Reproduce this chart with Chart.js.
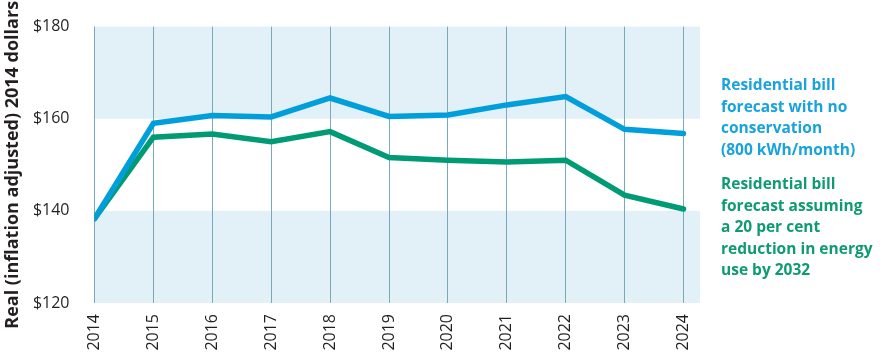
<!DOCTYPE html>
<html>
<head>
<meta charset="utf-8">
<script src="https://cdn.jsdelivr.net/npm/chart.js@4"></script>
<style>
  html, body { margin: 0; padding: 0; background: #fff; }
  #wrap { position: relative; width: 895px; height: 364px; }
  .note { position: absolute; left: 721px; font-family: "Open Sans", sans-serif; font-weight: 700; font-size: 15.5px; line-height: 21.5px; }
</style>
</head>
<body>
<div id="wrap">
  <canvas id="chart" width="895" height="364"></canvas>
  <div class="note" id="noteBlue" style="top:74px;color:#19a3dc"></div>
  <div class="note" id="noteGreen" style="top:173px;color:#0e9b74"></div>
</div>
<script>
const years = [2014, 2015, 2016, 2017, 2018, 2019, 2020, 2021, 2022, 2023, 2024];
const noConservation = [138.3, 159.0, 160.7, 160.4, 164.5, 160.5, 160.8, 163.0, 164.8, 157.7, 156.8];
const withReduction = [138.3, 156.0, 156.7, 155.0, 157.2, 151.6, 151.0, 150.6, 151.0, 143.4, 140.4];
const yTicks = [120, 140, 160, 180];
const blueLabel = ["Residential bill", "forecast with no", "conservation", "(800 kWh/month)"];
const greenLabel = ["Residential bill", "forecast assuming", "a 20 per cent", "reduction in energy", "use by 2032"];

document.getElementById("noteBlue").innerHTML = blueLabel.join("<br>");
document.getElementById("noteGreen").innerHTML = greenLabel.join("<br>");

// light blue bands between 120-140 and 160-180
const bands = {
  id: "bands",
  beforeDraw(chart) {
    const { ctx, chartArea, scales } = chart;
    ctx.save();
    ctx.fillStyle = "#e2f1f7";
    [[120, 140], [160, 180]].forEach(b => {
      const y1 = scales.y.getPixelForValue(b[1]);
      const y2 = scales.y.getPixelForValue(b[0]);
      ctx.fillRect(chartArea.left, y1, chartArea.right - chartArea.left, y2 - y1);
    });
    ctx.restore();
  }
};

new Chart(document.getElementById("chart"), {
  type: "line",
  data: {
    datasets: [
      {
        label: "No conservation",
        data: years.map((y, i) => ({ x: y, y: noConservation[i] })),
        borderColor: "#009fdb",
        borderWidth: 5.5,
        borderCapStyle: "round",
        pointRadius: 0,
        tension: 0
      },
      {
        label: "20 per cent reduction",
        data: years.map((y, i) => ({ x: y, y: withReduction[i] })),
        borderColor: "#009a74",
        borderWidth: 5.5,
        borderCapStyle: "round",
        pointRadius: 0,
        tension: 0
      }
    ]
  },
  plugins: [bands],
  options: {
    responsive: false,
    animation: false,
    layout: { padding: { top: 22, right: 195, left: 0, bottom: 0 } },
    plugins: { legend: { display: false }, tooltip: { enabled: false } },
    scales: {
      x: {
        type: "linear",
        min: 2014,
        max: 2024.28,
        afterBuildTicks: s => { s.ticks = years.map(v => ({ value: v })); },
        afterFit: s => { s.height = 61; },
        border: { display: false },
        grid: { color: "#79a8bc", lineWidth: 1, drawTicks: false },
        ticks: {
          autoSkip: false,
          minRotation: 90,
          maxRotation: 90,
          padding: 11,
          color: "#231f20",
          font: { family: "Open Sans", size: 16 },
          callback: v => String(v)
        }
      },
      y: {
        min: 120,
        max: 180,
        afterBuildTicks: s => { s.ticks = yTicks.map(v => ({ value: v })); },
        afterFit: s => { s.width = 94.5; },
        border: { display: false },
        grid: { display: false },
        ticks: {
          padding: 17,
          color: "#231f20",
          font: { family: "Open Sans", size: 16 },
          callback: v => "$" + v
        },
        title: {
          display: true,
          text: "Real (inflation adjusted) 2014 dollars",
          color: "#231f20",
          font: { family: "Open Sans", size: 18, weight: "bold" },
          padding: { top: 2, bottom: 0 }
        }
      }
    }
  }
});
</script>
</body>
</html>
